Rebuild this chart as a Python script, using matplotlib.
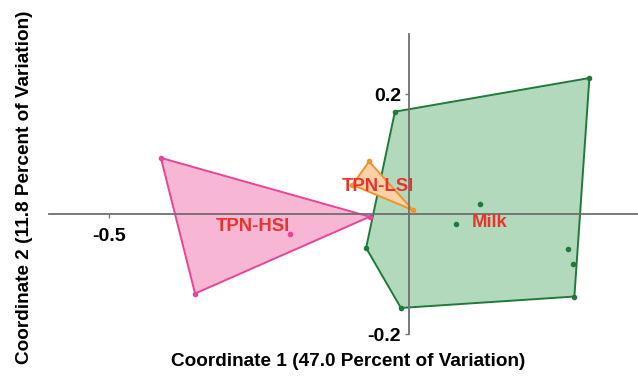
import matplotlib
matplotlib.use("Agg")
import matplotlib.pyplot as plt
from matplotlib.patches import Polygon

plt.rcParams['font.family'] = ['Liberation Sans', 'DejaVu Sans']

# PCoA scores (coordinate 1, coordinate 2) per group
milk_x = [0.300, -0.024, -0.072, -0.014, 0.275, 0.118, 0.078, 0.265, 0.273]
milk_y = [0.227, 0.171, -0.056, -0.156, -0.137, 0.017, -0.016, -0.057, -0.082]
hsi_x = [-0.414, -0.357, -0.066, -0.199]
hsi_y = [0.094, -0.132, -0.004, -0.032]
lsi_x = [-0.067, -0.095, 0.006]
lsi_y = [0.088, 0.049, 0.007]

# hull vertex order (indices into each group)
milk_hull = [0, 1, 2, 3, 4]
hsi_hull = [0, 1, 2]
lsi_hull = [0, 1, 2]

groups = [
    ("Milk", milk_x, milk_y, milk_hull, "#1f7a3c", "#b3d9bd", (0.133, -0.014)),
    ("TPN-HSI", hsi_x, hsi_y, hsi_hull, "#e8449a", "#f6b6d4", (-0.260, -0.020)),
    ("TPN-LSI", lsi_x, lsi_y, lsi_hull, "#f2922c", "#f9d2a8", (-0.052, 0.046)),
]

x_ticks = [-0.5]
x_tick_labels = ["-0.5"]
y_ticks = [0.2, -0.2]
y_tick_labels = ["0.2", "-0.2"]

fig = plt.figure(figsize=(6.38, 3.80), dpi=100)
ax = fig.add_axes([0, 0, 1, 1])
ax.set_xlim(-0.682, 0.381)
ax.set_ylim(-0.276, 0.357)

for name, xs, ys, hull, edge, fill, lab in groups:
    pts = [(xs[i], ys[i]) for i in hull]
    ax.add_patch(Polygon(pts, closed=True, facecolor=fill, edgecolor=edge,
                         linewidth=1.4, alpha=1.0, zorder=2))
    ax.scatter(xs, ys, s=9, color=edge, zorder=4)

for name, xs, ys, hull, edge, fill, lab in groups:
    ax.text(lab[0], lab[1], name, color="#e8342c", fontsize=13.3,
            fontweight="bold", ha="center", va="center", zorder=5)

for s in ["top", "right"]:
    ax.spines[s].set_visible(False)
ax.spines["left"].set_position(("data", 0))
ax.spines["bottom"].set_position(("data", 0))
ax.spines["left"].set_bounds(-0.2, 0.3)
ax.spines["bottom"].set_bounds(-0.6, 0.381)
for s in ["left", "bottom"]:
    ax.spines[s].set_color("#6f6f6f")
    ax.spines[s].set_linewidth(1.3)
    ax.spines[s].set_zorder(3)

ax.set_xticks(x_ticks, x_tick_labels)
ax.set_yticks(y_ticks, y_tick_labels)
ax.tick_params(axis="both", colors="#7a7a7a", length=3, width=1, labelcolor="black",
               labelsize=14)
ax.tick_params(axis="x", pad=7)
ax.tick_params(axis="y", pad=3)
for t in ax.get_xticklabels() + ax.get_yticklabels():
    t.set_fontweight("bold")

fig.text(0.546, 0.048, "Coordinate 1 (47.0 Percent of Variation)", ha="center",
         va="center", fontsize=13.7, fontweight="bold")
fig.text(0.039, 0.508, "Coordinate 2 (11.8 Percent of Variation)", ha="center",
         va="center", rotation=90, fontsize=13.7, fontweight="bold")

fig.savefig("out.png", dpi=100)
